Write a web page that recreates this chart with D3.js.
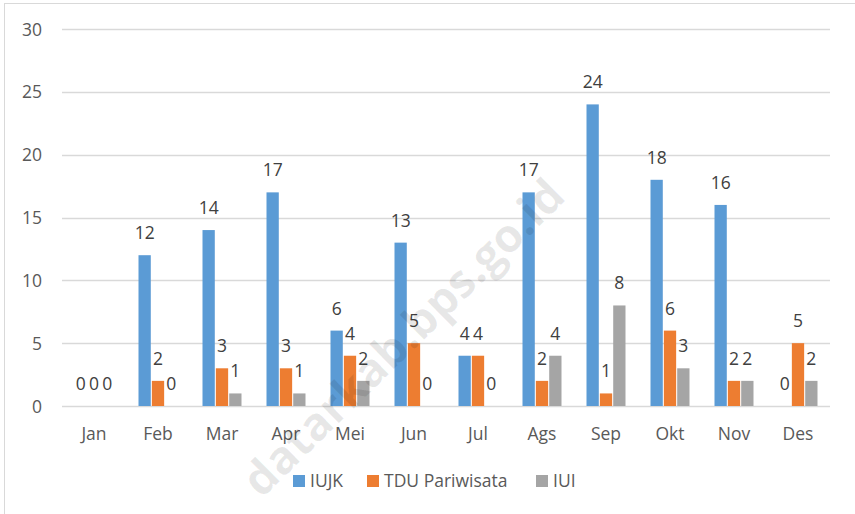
<!DOCTYPE html>
<html><head><meta charset="utf-8">
<script src="https://cdn.jsdelivr.net/npm/d3@7/dist/d3.min.js"></script>
<style>body{margin:0;background:#fff}svg{display:block}text{font-family:"Open Sans","Noto Sans",sans-serif}</style>
</head><body><svg id="c" width="855" height="514"></svg>
<script>
const categories = ["Jan","Feb","Mar","Apr","Mei","Jun","Jul","Ags","Sep","Okt","Nov","Des"];
const seriesNames = ["IUJK","TDU Pariwisata","IUI"];
const iujk = [0,12,14,17,6,13,4,17,24,18,16,0];
const tdu  = [0,2,3,3,4,5,4,2,1,6,2,5];
const iui  = [0,0,1,1,2,0,0,4,8,3,2,2];
const yTicks = [0,5,10,15,20,25,30];
const colors = ["#5B9BD5","#ED7D31","#A5A5A5"];

const values = [iujk, tdu, iui];
const FS = 17.5;
const svg = d3.select("#c");
svg.append("rect").attr("x",4.5).attr("y",3.5).attr("width",860).attr("height",520)
  .attr("fill","#fff").attr("stroke","#d9d9d9");

const x = d3.scaleBand().domain(categories).range([62,830]);
const y = d3.scaleLinear().domain([0,30]).range([406,29]);
const xs = d3.scaleBand().domain(seriesNames).range([0,39]).paddingInner(0.08);
const offset = (x.bandwidth()-39)/2;

// gridlines
svg.append("g").selectAll("line").data(yTicks).join("line")
  .attr("x1",62).attr("x2",830).attr("y1",d=>Math.round(y(d))+0.5).attr("y2",d=>Math.round(y(d))+0.5)
  .attr("stroke","#d9d9d9").attr("stroke-width",1.5);

// y axis labels
const yAxis = d3.axisLeft(y).tickValues(yTicks).tickSize(0).tickPadding(0);
const gy = svg.append("g").attr("transform","translate(42,0)").call(yAxis);
gy.select(".domain").remove();
gy.selectAll("text").attr("font-size",FS).attr("fill","#595959").attr("dy","0.35em");

// x axis labels
const xAxis = d3.axisBottom(x).tickSize(0).tickPadding(0);
const gx = svg.append("g").attr("transform","translate(0,440)").call(xAxis);
gx.select(".domain").remove();
gx.selectAll("text").attr("font-size",FS).attr("fill","#595959").attr("dy","0");

// bars
seriesNames.forEach((s,si)=>{
  const g = svg.append("g");
  const data = categories.map((c,i)=>({c,v:values[si][i]}));
  g.selectAll("rect").data(data).join("rect")
    .attr("x",d=>x(d.c)+offset+xs(s)).attr("width",xs.bandwidth())
    .attr("y",d=>y(d.v)).attr("height",d=>y(0)-y(d.v)).attr("fill",colors[si]);
  g.selectAll("text").data(data).join("text")
    .attr("x",d=>x(d.c)+offset+xs(s)+xs.bandwidth()/2).attr("y",d=>y(d.v)-16)
    .attr("text-anchor","middle").attr("font-size",FS).attr("fill","#404040").text(d=>d.v);
});

// legend
const legX = [293,367,536];
const lg = svg.append("g");
seriesNames.forEach((s,i)=>{
  lg.append("rect").attr("x",legX[i]).attr("y",475).attr("width",12).attr("height",12).attr("fill",colors[i]);
  lg.append("text").attr("x",legX[i]+17).attr("y",487).attr("font-size",FS).attr("fill","#595959").text(s);
});

// watermark (semi-transparent overlay)
svg.append("text").attr("transform","translate(402,336) rotate(-44.5)")
  .attr("text-anchor","middle").attr("dominant-baseline","central")
  .attr("font-size",46).attr("font-weight","bold").attr("fill","#000").attr("fill-opacity",0.09)
  .text("datarkab.bps.go.id");
</script></body></html>
